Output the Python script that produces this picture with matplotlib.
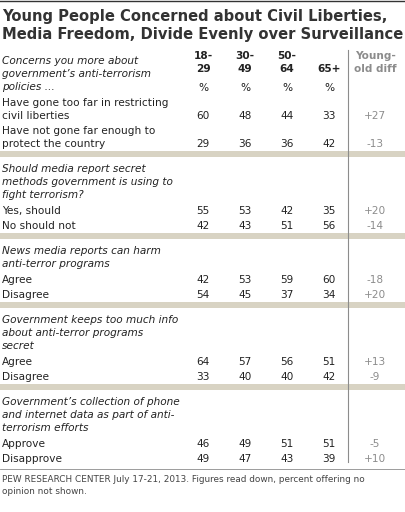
import matplotlib
matplotlib.use("Agg")
import matplotlib.pyplot as plt

title = ["Young People Concerned about Civil Liberties,",
         "Media Freedom, Divide Evenly over Surveillance"]
age_groups = [["18-", "29"], ["30-", "49"], ["50-", "64"], ["", "65+"]]
diff_header = ["Young-", "old diff"]

questions = [
    ["Concerns you more about", "government\u2019s anti-terrorism", "policies ..."],
    ["Should media report secret", "methods government is using to", "fight terrorism?"],
    ["News media reports can harm", "anti-terror programs"],
    ["Government keeps too much info", "about anti-terror programs", "secret"],
    ["Government\u2019s collection of phone", "and internet data as part of anti-", "terrorism efforts"],
]
row_labels = [
    [["Have gone too far in restricting", "civil liberties"], ["Have not gone far enough to", "protect the country"]],
    [["Yes, should"], ["No should not"]],
    [["Agree"], ["Disagree"]],
    [["Agree"], ["Disagree"]],
    [["Approve"], ["Disapprove"]],
]
values = [
    [[60, 48, 44, 33], [29, 36, 36, 42]],
    [[55, 53, 42, 35], [42, 43, 51, 56]],
    [[42, 53, 59, 60], [54, 45, 37, 34]],
    [[64, 57, 56, 51], [33, 40, 40, 42]],
    [[46, 49, 51, 51], [49, 47, 43, 39]],
]
diffs = [["+27", "-13"], ["+20", "-14"], ["-18", "+20"], ["+13", "-9"], ["-5", "+10"]]
note = ["PEW RESEARCH CENTER July 17-21, 2013. Figures read down, percent offering no",
        "opinion not shown."]

fig = plt.figure(figsize=(4.05, 5.12), dpi=100)
ax = fig.add_axes([0, 0, 1, 1])
ax.set_xlim(0, 405)
ax.set_ylim(512, 0)
ax.axis("off")

txt = "#222222"
grey = "#8c8c8c"
band = "#d8d3c3"
col_x = [203, 245, 287, 329]
diff_x = 375
lh = 13.0
fs = 7.6

ax.plot([0, 405], [1, 1], color="#333333", lw=1)
for i, t in enumerate(title):
    ax.text(2, 17 + i * 17, t, fontsize=10.6, fontweight="bold", color="#333333", va="center")

# header
for x, (a, b) in zip(col_x, age_groups):
    ax.text(x, 56, a, fontsize=fs, fontweight="bold", ha="center", va="center", color=txt)
    ax.text(x, 69, b, fontsize=fs, fontweight="bold", ha="center", va="center", color=txt)
    ax.text(x, 88, "%", fontsize=fs, ha="center", va="center", color=txt)
for i, t in enumerate(diff_header):
    ax.text(diff_x, 56 + i * 13, t, fontsize=fs, fontweight="bold", ha="center", va="center", color=grey)

y = 61
line_top = 50
for s, q in enumerate(questions):
    for i, t in enumerate(q):
        ax.text(2, y + i * lh, t, fontsize=fs, style="italic", ha="left", va="center", color=txt)
    y += len(q) * lh + 3
    for r, lab in enumerate(row_labels[s]):
        for i, t in enumerate(lab):
            ax.text(2, y + i * lh, t, fontsize=fs, ha="left", va="center", color=txt)
        vy = y + (len(lab) - 1) * lh
        for x, v in zip(col_x, values[s][r]):
            ax.text(x, vy, str(v), fontsize=fs, ha="center", va="center", color=txt)
        ax.text(diff_x, vy, diffs[s][r], fontsize=fs, ha="center", va="center", color=grey)
        y = vy + 15
    if s < len(questions) - 1:
        ax.add_patch(plt.Rectangle((0, y - 8), 405, 6, color=band, lw=0))
        y += 10
    else:
        line_bottom = y - 12
ax.plot([348, 348], [line_top, line_bottom], color=grey, lw=0.8)
ax.plot([0, 405], [y - 5, y - 5], color=grey, lw=0.6)
for i, t in enumerate(note):
    ax.text(2, y + 6 + i * 12, t, fontsize=6.4, ha="left", va="center", color="#444444")

fig.savefig("out.png", dpi=100)
